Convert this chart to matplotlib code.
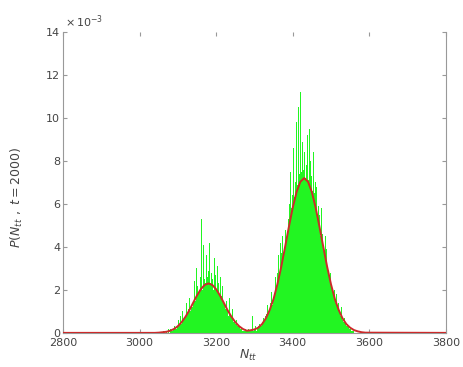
import numpy as np
import matplotlib
matplotlib.use('Agg')
import matplotlib.pyplot as plt

# histogram of N_tt at t=2000, bins of width 2 starting at 3060 (values in units of 1e-3)
bin_start = 3060
bin_width = 2
hist_vals = [
    0, 0.1, 0, 0, 0.1,  0.1, 0, 0.2, 0.1, 0,
    0.2, 0.1, 0.3, 0.1, 0.2,  0.3, 0.2, 0.5, 0.2, 0.3,
    0.6, 0.3, 0.4, 0.8, 0.4,  0.5, 1.0, 0.6, 0.7, 1.2,
    0.8, 1.4, 0.9, 1.1, 0.7,  1.6, 1.0, 1.3, 2.1, 1.2,
    1.4, 2.4, 1.7, 1.5, 3.0,  2.2, 1.8, 3.4, 2.0, 2.6,
    5.3, 2.4, 2.0, 4.1, 2.5,  3.2, 2.3, 3.6, 2.6, 2.4,
    2.9, 4.2, 2.3, 2.8, 2.1,  2.5, 2.0, 3.5, 2.2, 2.7,
    2.0, 3.1, 1.8, 2.3, 1.7,  2.6, 1.5, 1.7, 2.2, 1.4,
    1.3, 1.8, 1.1, 1.5, 1.0,  1.2, 0.8, 1.6, 0.9, 0.7,
    0.7, 1.1, 0.5, 0.6, 0.9,  0.4, 0.6, 0.3, 0.5, 0.3,
    0.3, 0.2, 0.4, 0.2, 0.1,  0.1, 0.2, 0.1, 0.2, 0.1,
    0.1, 0.1, 0.2, 0.1, 0.1,  0.2, 0.1, 0.8, 0.1, 0.2,
    0.2, 0.3, 0.1, 1.2, 0.2,  0.3, 0.4, 0.3, 0.5, 0.3,
    0.5, 0.7, 0.5, 0.6, 0.8,  0.9, 0.8, 1.3, 0.9, 1.1,
    1.4, 1.2, 1.9, 1.3, 1.6,  2.0, 1.8, 2.6, 2.2, 3.0,
    2.8, 3.6, 2.6, 3.0, 4.2,  3.7, 4.5, 3.5, 5.6, 3.9,
    4.8, 4.4, 6.2, 4.7, 5.3,  6.0, 5.4, 7.5, 5.8, 6.4,
    6.5, 8.6, 6.3, 7.0, 9.8,  7.2, 6.9, 10.5, 7.4, 8.1,
    11.2, 7.5, 8.9, 13.0, 7.6,  8.4, 7.2, 11.6, 7.8, 9.2,
    7.1, 9.5, 6.9, 8.0, 7.3,  6.6, 6.3, 8.4, 6.5, 7.0,
    5.6, 6.8, 5.3, 5.9, 5.5,  4.9, 4.5, 5.8, 4.6, 4.4,
    3.8, 3.6, 4.5, 3.5, 3.9,  2.9, 2.7, 3.4, 2.6, 2.8,
    2.1, 1.9, 2.5, 1.8, 2.0,  1.4, 1.3, 1.8, 1.2, 1.4,
    0.9, 1.0, 0.8, 1.2, 0.8,  0.6, 0.5, 0.7, 0.5, 0.6,
    0.3, 0.4, 0.3, 0.3, 0.2,  0.2, 0.1, 0.2, 0.1, 0.1,
]

# fitted curve (units of 1e-3)
fit_x = [2800, 3040, 3050, 3060, 3070, 3080, 3090, 3100, 3110, 3120, 3130,
         3140, 3150, 3160, 3170, 3180, 3190, 3200, 3210, 3220, 3230,
         3240, 3250, 3260, 3270, 3280, 3290, 3300, 3310, 3320, 3330,
         3340, 3350, 3360, 3370, 3380, 3390, 3400, 3410, 3420, 3430,
         3440, 3450, 3460, 3470, 3480, 3490, 3500, 3510, 3520, 3530,
         3540, 3550, 3560, 3570, 3580, 3590, 3800]
fit_y = [0, 0, 0.01, 0.03, 0.05, 0.10, 0.18, 0.31, 0.50, 0.75, 1.05,
         1.40, 1.74, 2.03, 2.23, 2.30, 2.23, 2.03, 1.74, 1.40, 1.05,
         0.75, 0.50, 0.31, 0.18, 0.10, 0.12, 0.16, 0.24, 0.41, 0.68,
         1.07, 1.58, 2.26, 3.07, 3.99, 4.93, 5.82, 6.55, 7.03, 7.20,
         7.03, 6.55, 5.82, 4.93, 3.99, 3.07, 2.26, 1.58, 1.07, 0.68,
         0.41, 0.24, 0.13, 0.07, 0.03, 0.01, 0]

x_ticks = [2800, 3000, 3200, 3400, 3600, 3800]
y_ticks = [0, 2, 4, 6, 8, 10, 12, 14]

fig = plt.figure(figsize=(4.63, 3.67), dpi=100)
ax = fig.add_axes([0.136, 0.093, 0.827, 0.82])

centers = bin_start + bin_width * (np.arange(len(hist_vals)) + 0.5)
ax.bar(centers, np.array(hist_vals), width=bin_width, color='#22f522',
       linewidth=0, zorder=2)
ax.plot(fit_x, fit_y, color='#cc2a2a', linewidth=1.4, zorder=3)

ax.set_xlim(2800, 3800)
ax.set_ylim(0, 14)
ax.set_xticks(x_ticks)
ax.set_yticks(y_ticks)
ax.tick_params(direction='in', length=3, labelsize=8, colors='#999999',
               labelcolor='#444444', top=True, right=True, pad=2)
ax.tick_params(axis='x', pad=4)

for side in ['left', 'right', 'bottom']:
    ax.spines[side].set_color('#999999')
    ax.spines[side].set_linewidth(0.8)
ax.spines['top'].set_visible(False)

ax.text(0.005, 1.005, r'$\times\,10^{-3}$', transform=ax.transAxes,
        fontsize=8, color='#444444', ha='left', va='bottom')

ax.set_xlabel(r'$N_{tt}$', fontsize=9, color='#444444', labelpad=0)
ax.xaxis.set_label_coords(0.485, -0.05)
ax.set_ylabel(r'$P(N_{tt}\ ,\ t=2000)$', fontsize=9, color='#444444')
ax.yaxis.set_label_coords(-0.1, 0.45)

plt.savefig('out.png', dpi=100)
